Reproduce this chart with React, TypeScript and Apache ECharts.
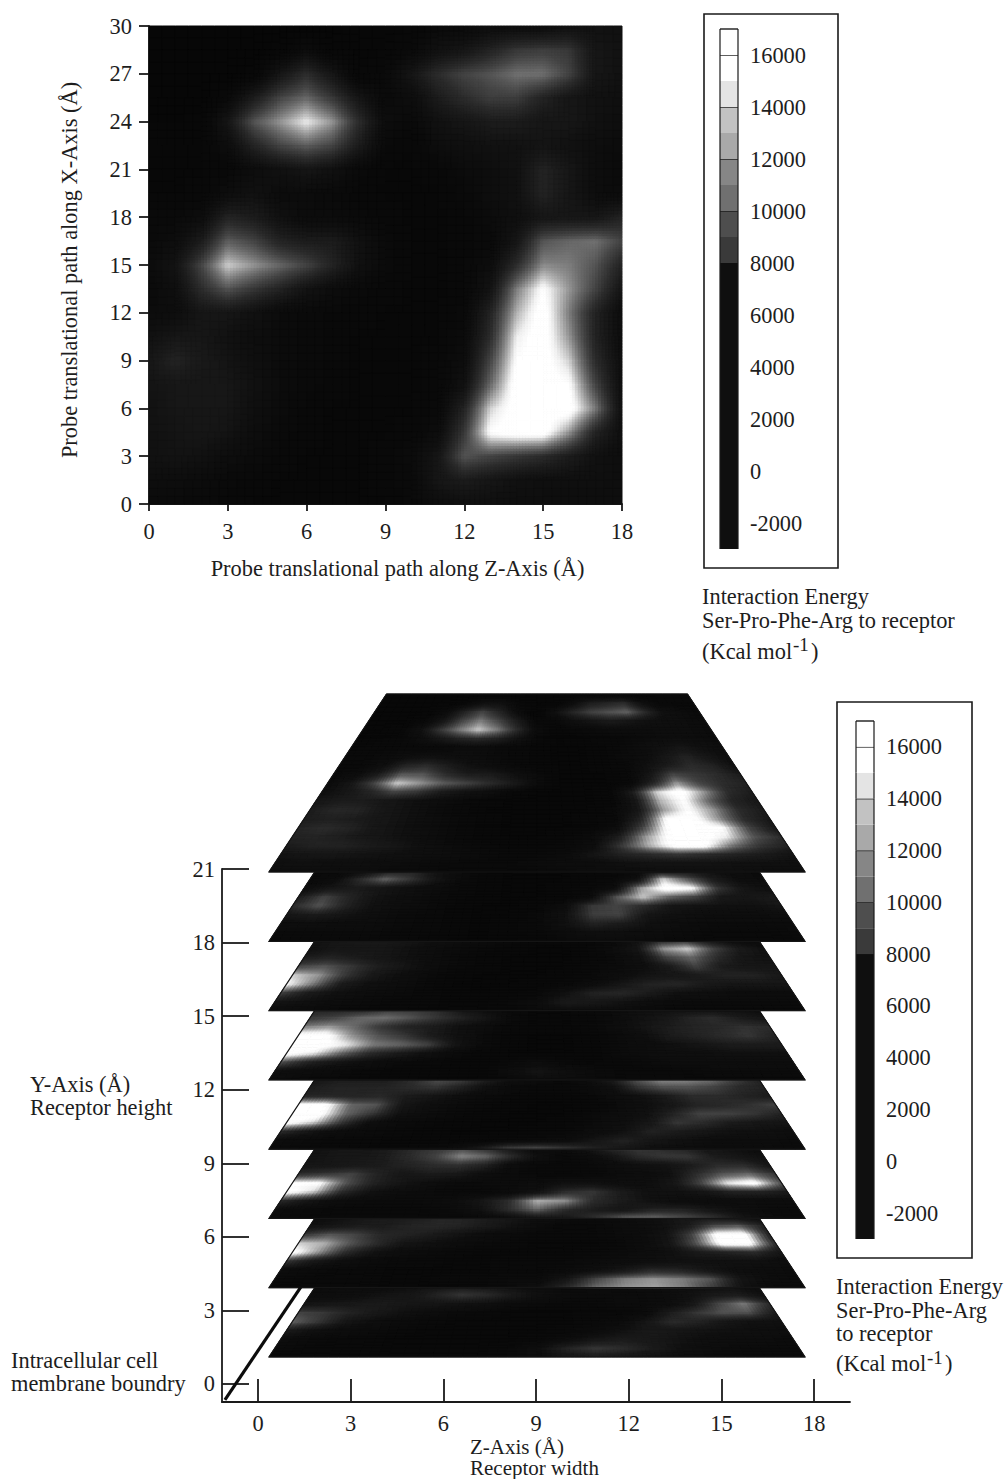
import React, { useEffect, useRef } from "react";
import * as echarts from "echarts";

// ---------- data (energies in thousands of Kcal/mol) ----------
const zValues = [0,1,2,3,4,5,6,7,8,9,10,11,12,13,14,15,16,17,18];
const fullRowsX = [30,28.5,27,25.5,24,22.5,21,19.5,18,16.5,15,13.5,12,10.5,9,7.5,6,4.5,3,1.5,0];
const frontRowsX = [12,10.5,9,7.5,6,4.5,3,1.5,0];

const mapTop = [
[-2,-2,-2,-2,-2,-2,-2,-2,-1,-1,-1,0,0,1,1,1,2,2,2],
[-2,-2,-2,-2,-2,-1,1,-1,-1,-1,0,2,3,5,7,7.5,7,3,2],
[-2,-2,-2,-2,-1,3,6,3,-1,0,3,6,8,9,10.5,10.5,8,3,2],
[-2,-2,-2,0,4,8,10,7,3,0,1,4,6,7.5,7.5,5,3,2,1.5],
[-1.5,-1.5,-1,3,9,12,15,12,6,1,0,2,3,4,4,3,3,2,1],
[-1,-1,-1,1,5,8,9.5,8,4,0,-1,1,1.5,2,2,2.5,2,1,0.5],
[-1,-1,-1,-0.5,1,2,3,2,0,-1,-1,-0.5,0.5,1,2,5,3,1,0],
[-1,-1,-0.5,1,2,0.5,0.5,0,-0.5,-1,-1,-1,0,1,2,5,3,1,0.5],
[0,0,1,5,4,2,0.5,0.5,0,-0.5,-1,-1,-0.5,0.5,1.5,3,3,3,5],
[0,1,4,9.5,8,5,4,4,2,0,-1,-1,-0.5,0,3,9,10,10.5,8],
[0.5,2.5,8,14,12,10,8,5,2,0,-1,-1,-0.5,1,6,11.5,11,9,5],
[0,1.5,6,9,7,5,2.5,1,0,-0.5,-1,-1,-0.5,2.5,11,16,12,8,3],
[0.5,1,3,3,2,0.5,0,-0.5,-0.5,-1,-1,-1,0,5,13,17,11,5,1],
[2,3,3,2,1,0.5,0,-0.5,-1,-1,-1,-1,0.5,6,15,17,12,5,1],
[3,5,3.5,2.5,1.5,0.5,0,-0.5,-1,-1,-1,-0.5,1,8,16,17,14,6,1.5],
[2.5,3,3,3,2,0.5,0,-0.5,-1,-1,-1,-0.5,2,10,17,17,16,8,1.5],
[2,3,3,3,1.5,0.5,-0.5,-1,-1,-1,-1,0,5,14,17,17,17,11,2],
[2,2.5,3,2.5,1,0,-0.5,-1,-1,-1,-0.5,1,7,16,17,17,12,5,1.5],
[2,2.5,2,1,0.5,-0.5,-1,-1,-1,-0.5,0.5,3,9,8,7,6,4,2,1],
[1,1,0.5,0,-0.5,-1,-1,-1,-1,-0.5,0,3,4,3,2,1.5,1.5,1.5,1],
[0,0,0,-0.5,-1,-1,-1,-1,-1,-1,0,1,1.5,1.5,1,1,1,1,1],
];

const plane21 = [
[-1,-1,-1,-1,-1,-1,-1,-1,-1,-1,-1,-1,-1,-0.5,-0.5,-0.5,0,0,0],
[-1,-1,-1,-1,-1,0,2,2,0,-1,-1,1,4,5,6,2,0,0,0],
[-1,-1,-1,-1,1,5,8,5,1,-1,2,5.5,8,9,10,6,2,1,0],
[-1,-1,-1,0,3,8,11,8,4,0,0,2,3,4,3,2,1.5,1,0.5],
[-1,-1,-0.5,2,7,11,14,11,6,1,-0.5,0,0.5,1,1,1,1,1,0.5],
[-1,-0.5,0,1,3,5,6,5,2.5,0,-1,-0.5,0,0,0.5,1,1.5,1,0.5],
[-0.5,0,0,0,0,0.5,1,0.5,0,-0.5,-1,-1,-0.5,0,1,2,3,2,1],
[0,0,0.5,1.5,2,1.5,1,0.5,0,-0.5,-1,-1,-0.5,0.5,1,3,5,3,1.5],
[0,0,1.5,5,6,4,2,1,0,-0.5,-1,-1,-0.5,0,2,4,6,5,2],
[0,1,4,9,9,6,4,4,2,0.5,-1,-1,-1,0,3,8,7,6,4],
[0.5,3,8,14,12,9.5,8,6,4,1,-1,-1,-1,0,5,12,8,6,5],
[1.5,3,5,8,7,4,2.5,1.5,0,-1,-1,-1,-0.5,4,14,17,12,6,4],
[3,4,4,3,2,1,0,-0.5,-1,-1,-1,-1,-0.5,3,13,16,10,5,3.5],
[4,5.5,5,3,2,0.5,0,-1,-1,-1,-1,-1,0,3,12,16,12,6,4],
[4,4.5,4,3,2,1,0,-0.5,-1,-1,-1,-0.5,0,5,16,17,12,6,3.5],
[5,6,5,3,2,1,0,-0.5,-1,-1,-1,-0.5,1,8,17,17,16,8,3.5],
[5,5,4,3,2,1,0,-0.5,-1,-1,-0.5,0.5,4,12,17,17,15,9,6],
[4,5,5,4,3,1.5,0.5,0,-0.5,-0.5,0,1,7,13,17,17,11,7,5],
[2.5,3,3,2.5,2,1.5,1,0.5,0,0,0.5,3,5,6,7,6,5,4,2.5],
[1.5,2,1.5,1.5,1,0.5,0,0,0,0.5,1,1,2,2.5,2.5,2.5,2,2,1.5],
[1,1,1,1,0.5,0.5,0,0,0,0,0.5,1,1,1.5,1.5,1.5,1.5,1,1],
];
const plane18 = [
[0,0,1,4,5,2,0.5,-1,-1,-1,-1,-1,-0.5,0,2,3,2,1,0],
[0,1,6,10,7,3,0.5,-0.5,-1,-1,-1,-0.5,0,2,14,9,4,1.5,0.5],
[1,3,4,3,2,1,0,-0.5,-1,-1,-0.5,0,1,12,17,16,7,3,1.5],
[4,8,5,2.5,1.5,0.5,0,-0.5,-1,-1,-0.5,0.5,9,14,10,8,3.5,3,4],
[6,9,5,2,1,0.5,-0.5,-1,-1,-0.5,1,7,8,6,3,2.5,2,2,3],
[3,4,3,1.5,0.5,0,-0.5,-1,-1,0,2,7.5,8,3,2,1,1,1,1.5],
[1,1.5,1,1,0.5,0,-0.5,-1,-0.5,0,2,5,4,2,1,0.5,0.5,0.5,0.5],
[0.5,0.5,0.5,0.5,0,0,-0.5,-1,-0.5,0,1,1.5,1.5,1,0.5,0,0,0,0.5],
[0,0,0,0,0,-0.5,-1,-1,-1,-1,0,0.5,0.5,0,0,0,0,0,0],
];
const plane15 = [
[2,3,3.5,3.5,3,2,1,0.5,0,-0.5,-0.5,-0.5,0,2,5,6,3,1,0],
[2,3,3,3,2,1,0.5,0,-0.5,-1,-1,-0.5,1,3,12,14,8,4,2],
[4,5,4,3,2,1,0,-0.5,-1,-1,-1,-0.5,0.5,2,8,10,6,3,2],
[8,9,7,4.5,3,1,0,-0.5,-1,-1,-1,0,0.5,1.5,4,8,4,3,3],
[14,12,7,3.5,1.5,0.5,-0.5,-1,-1,-1,-0.5,0,1,2.5,3,4,5,5,3.5],
[16,11,4,2,1,0,-1,-1,-1,-0.5,0,1,3,5,5.5,4,3,3,3],
[8,4,2,1,0.5,0,-0.5,-1,-0.5,0,2,5,5.5,4,2,1.5,1,1,1],
[3,2,1,0.5,0,0,-0.5,-0.5,0,1,4,3.5,2.5,1,0.5,0.5,0.5,0.5,0.5],
[1,0.5,0,0,0,-0.5,-0.5,-0.5,0,0.5,1,1,0.5,0,0,0,0,0,0],
];
const plane12 = [
[5,5,5,7,7,6,3,1.5,0,-0.5,-0.5,0,0.5,2,2,2,2,2,1],
[7,8,10,10.5,9,7,5,3,0.5,-0.5,-0.5,0,0.5,2,3,5,6,4,3],
[11,12,10,7,5,4,2,1,0,-0.5,-0.5,0,1,2.5,4,5,5.5,6.5,6],
[17,17,12,9,7,4,2,0.5,-0.5,-1,-1,-0.5,0.5,1.5,4,5,6,7,5],
[17,17,15,11,10,8,3,0.5,-0.5,-1,-1,-0.5,0.5,1,2,3,4,4,4],
[17,15,10,6,4,2,0.5,-0.5,-1,-1,-1,-0.5,0.5,1,1.5,1.5,2,2,2],
[9,5,3,1.5,0.5,0,-0.5,-1,0,1,0,-0.5,0,0.5,1,1,1,1,1],
[2,1,0.5,0,-0.5,-0.5,-0.5,-0.5,1,3,1.5,0.5,0,0,0,0.5,0.5,0.5,0.5],
[1,0,0,-0.5,-0.5,-1,-1,-1,0,1,1,0.5,0,0,0,0,0,0,0],
];
const plane9 = [
[3,4,4,4,6,9,8,5,2,1,0,1,4,9,12,12,11,8,5],
[4,5,5,5,6,7,5,2,0.5,0,0,0.5,2,7,9,9,8,6,5],
[5,5,5,5.5,4,3,1.5,0.5,0,-0.5,-0.5,0,1,2,4,6,6,5,4],
[17,17,10,9,3,1.5,0.5,0,-0.5,-1,-1,-0.5,0.5,1.5,3,5,5.5,6.5,8],
[17,17,10,7,2,1,0,-0.5,-1,-1,-1,0,1,2,5,8,8,7,5],
[17,14,7,1.5,0.5,0,-0.5,-1,-1,-1,-0.5,0.5,1.5,3,7,6,4,3,3],
[6,3,1,0.5,0,-0.5,-1,-1,-1,-0.5,0,1,2,5,4,3,2,2,1],
[1,0.5,0,0,-0.5,-0.5,-0.5,-0.5,0,0.5,1,3,5,3,2,1,1,1,0.5],
[0.5,0,0,-0.5,-0.5,0,1,4,9,10,8,5,3,1.5,1,0.5,0.5,0.5,0.5],
];
const plane6 = [
[2,3,3,4,6,7,8,6,3,1,1,3,6,7,6,5,3,2,1],
[2,3,3,4,6,8,11.5,10,6,2,0,1,3,6,7,7,4,3,2],
[3,3,3.5,4,5,6,6.5,5,1,0,0,0,1,2,2.5,4,6,6,3],
[6,7,8,5,3,4,3.5,1.5,0.5,0,-0.5,0,0.5,1,2,6,9,10,7],
[16,16,9,5,3,1.5,0.5,0.5,0.5,1,2,2,1.5,1.5,3,8,15,17,9],
[17,14,6,2.5,1,0.5,0,0,0.5,2,6,7,4,2,2,3,5,5,4],
[6,3,1,0.5,0.5,0.5,1,3,6,13,12,6,4,2,1,1,1,1,1],
[1,0.5,0,0,0,0,0.5,2,6,10,6,4,3,5,5,3,1.5,0.5,0.5],
[0.5,0,0,0,0,0,0,0,0.5,2,3,7,11,11,9,7,3,1,0.5],
];
const plane3 = [
[1,2,3,4,4,5,5,4,3,2,1,0.5,0.5,1,2,3,3,2,1],
[2,3,4,4,5,5.5,5,4,2.5,1,0,0,0.5,1,2,4,8,9,5],
[7,9,8,5.5,5,4,2.5,1,0.5,0,0,0,0.5,1,2.5,8,17,17,5],
[14,13,9,6,3,2,1,0.5,0,-0.5,-0.5,-0.5,0,1,3,9,17,17,6],
[17,12,6,2.5,1,0.5,0,-0.5,-0.5,-0.5,-0.5,0,0.5,1,2,4,5,6,3],
[7,3.5,1.5,0.5,0,0,-0.5,-0.5,0,0,0,0.5,1,1.5,2,2,2,2,1],
[1,0.5,0,0,-0.5,-0.5,-0.5,-0.5,0,0,0.5,1.5,3,5.5,5,3,1.5,1,0.5],
[0.5,0,0,0,-0.5,-0.5,0,0,0.5,0.5,3,8,11,12,11,9,3,1,0.5],
[0,0,0,0,-0.5,-0.5,-0.5,0,0.5,2,6,10.5,12,12.5,11,7,2,0.5,0.5],
];
const plane0 = [
[0.5,1,1,1,2,3,3.5,3,2,1,0.5,0.5,0.5,1,1,1.5,2,2,1],
[1,1,1.5,2.5,3,5,7,6,4,2,1,0.5,0.5,0.5,1,2,3.5,4,2],
[2.5,3,3.5,4,3,3,2.5,2,1,0.5,0,0,0.5,0.5,1,3,8,11,6],
[8,7,5,3.5,2,1,0.5,0,-0.5,-0.5,-0.5,0,0,0.5,4,7,9,9,4],
[10,7,3,1.5,0.5,0,-0.5,-0.5,-0.5,-0.5,-0.5,0,0.5,3,6,5,3,2,2],
[4,2,1,0.5,0,-0.5,-0.5,-0.5,-0.5,-0.5,0,0.5,2,3.5,3,2.5,2,1.5,1],
[1,0.5,0,0,-0.5,-0.5,-0.5,-0.5,-0.5,0,1,3,4,3.5,2.5,1.5,1,1,0.5],
[0.5,0,0,0,-0.5,-0.5,-0.5,-0.5,0,1.5,5,7,6,4,2,1,0.5,0.5,0.5],
[0,0,0,-0.5,-0.5,-0.5,-0.5,-0.5,0,1,3,4,3,2,1,0.5,0,0,0],
];

const planeLevels = [0, 3, 6, 9, 12, 15, 18];
const lowerPlanes = [plane0, plane3, plane6, plane9, plane12, plane15, plane18];
const topPlaneLevel = 21;

const stackZTicks = [0, 3, 6, 9, 12, 15, 18];
const stackYTicks = [0, 3, 6, 9, 12, 15, 18, 21];
const energyTicks = [-2000, 0, 2000, 4000, 6000, 8000, 10000, 12000, 14000, 16000];
const barEdges = [-3000, 8000, 9000, 10000, 11000, 12000, 13000, 14000, 15000, 16000, 17000];
const barShades = ["#0f0f0f", "#3a3a3a", "#4e4e4e", "#707070", "#868686", "#a9a9a9", "#c2c2c2", "#e4e4e4", "#ffffff", "#ffffff"];
const barRuled = [10000, 12000, 14000, 16000, 17000];
const membraneZ = [-1.07, 1.39];
const membraneY = [-0.65, 3.96];

// ---------- helpers ----------
const FONT = "Liberation Serif";
const TEXT = "#1d1d1d";
const FS = 22.4;
const stops: number[][] = [[-3,5],[0,10],[2,17],[4,28],[6,44],[8,68],[9,85],[10,103],[11,125],[12,150],[13,178],[14,208],[15,240],[16,255]];
function shade(v: number): number {
  if (v <= stops[0][0]) return stops[0][1];
  for (let i = 1; i < stops.length; i++) {
    if (v <= stops[i][0]) {
      const t = (v - stops[i - 1][0]) / (stops[i][0] - stops[i - 1][0]);
      return stops[i - 1][1] + t * (stops[i][1] - stops[i - 1][1]);
    }
  }
  return 255;
}
const grey = (v: number) => { const g = Math.round(shade(v)); return `rgb(${g},${g},${g})`; };

function cells(matrix: number[][], rows: number[]) {
  const out: number[][] = [];
  for (let r = 0; r < rows.length - 1; r++) {
    for (let c = 0; c < zValues.length - 1; c++) {
      out.push([zValues[c], rows[r + 1], zValues[c + 1], rows[r], matrix[r + 1][c], matrix[r + 1][c + 1], matrix[r][c], matrix[r][c + 1]]);
    }
  }
  return out;
}
function bilinearPieces(api: any, maxN: number, make: (a: number[], b: number[], col: string) => any) {
  const z0 = api.value(0), x0 = api.value(1), z1 = api.value(2), x1 = api.value(3);
  const v00 = api.value(4), v10 = api.value(5), v01 = api.value(6), v11 = api.value(7);
  const sh = [v00, v10, v01, v11].map(shade);
  const range = Math.max(...sh) - Math.min(...sh);
  const n = Math.min(maxN, Math.ceil(range / 6) + 2);
  const kids: any[] = [];
  for (let i = 0; i < n; i++) {
    for (let j = 0; j < n; j++) {
      const u = (i + 0.5) / n, w = (j + 0.5) / n;
      const v = v00 * (1 - u) * (1 - w) + v10 * u * (1 - w) + v01 * (1 - u) * w + v11 * u * w;
      kids.push(make(
        [z0 + (z1 - z0) * i / n, x0 + (x1 - x0) * j / n],
        [z0 + (z1 - z0) * (i + 1) / n, x0 + (x1 - x0) * (j + 1) / n],
        grey(v)));
    }
  }
  return { type: "group", children: kids };
}
const renderMap = (_: any, api: any) =>
  bilinearPieces(api, 9, (a, b, col) => {
    const p = api.coord(a), q = api.coord(b);
    return { type: "rect", shape: { x: p[0], y: q[1], width: q[0] - p[0], height: p[1] - q[1] }, style: { fill: col, stroke: col, lineWidth: 1 } };
  });
const renderMapBase = (_: any, api: any) => {
  const p = api.coord([api.value(0), api.value(1)]), q = api.coord([api.value(2), api.value(3)]);
  return { type: "rect", shape: { x: p[0], y: q[1], width: q[0] - p[0], height: p[1] - q[1] }, style: { fill: "#0d0d0d" } };
};

// A plane at height Y is sheared back in depth and narrowed towards its far edge.
const DEPTH_PER_X = 178 / 30 / 23.095;
const NARROW = 235 / 536;
function project(api: any, z: number, x: number, level: number) {
  const c = api.coord([z, level + DEPTH_PER_X * x]);
  const mid = api.coord([9, level])[0];
  return [mid + (c[0] - mid) * (1 - NARROW * x / 30), c[1]];
}
const renderPlane = (level: number) => (_: any, api: any) =>
  bilinearPieces(api, 8, (a, b, col) => ({
    type: "polygon",
    shape: { points: [project(api, a[0], a[1], level), project(api, b[0], a[1], level), project(api, b[0], b[1], level), project(api, a[0], b[1], level)] },
    style: { fill: col, stroke: col, lineWidth: 0.9 },
  }));
const planeFrame = (api: any, style: any) => {
  const level = api.value(0), xMax = api.value(1);
  return {
    type: "polygon",
    shape: { points: [project(api, 0, 0, level), project(api, 18, 0, level), project(api, 18, xMax, level), project(api, 0, xMax, level)] },
    style,
  };
};
const renderPlaneBase = (_: any, api: any) => planeFrame(api, { fill: "#0d0d0d" });
const renderOutline = (_: any, api: any) => planeFrame(api, { fill: "none", stroke: "#151515", lineWidth: 1.2 });
const renderBar = (_: any, api: any) => {
  const low = api.value(0), high = api.value(1), idx = api.value(2);
  const l = api.coord([0, low]), h = api.coord([1, high]);
  const kids: any[] = [
    { type: "rect", shape: { x: l[0], y: h[1], width: h[0] - l[0], height: l[1] - h[1] }, style: { fill: barShades[idx] } },
    { type: "line", shape: { x1: l[0], y1: h[1], x2: l[0], y2: l[1] }, style: { stroke: "#1a1a1a", lineWidth: 1.2 } },
    { type: "line", shape: { x1: h[0], y1: h[1], x2: h[0], y2: l[1] }, style: { stroke: "#1a1a1a", lineWidth: 1.2 } },
  ];
  if (barRuled.includes(high)) kids.push({ type: "line", shape: { x1: l[0], y1: h[1], x2: h[0], y2: h[1] }, style: { stroke: "#1a1a1a", lineWidth: 1.4 } });
  return { type: "group", children: kids };
};

const label = (x: number, y: number, text: string, extra: any = {}, size: number = FS) => ({
  type: "text", x, y,
  style: { text, fill: TEXT, font: `${size}px "${FONT}"`, verticalAlign: "middle", ...extra },
});
const legendBox = (x: number, y: number, w: number, h: number) => ({
  type: "rect", shape: { x, y, width: w, height: h }, style: { fill: "none", stroke: "#1a1a1a", lineWidth: 1.6 },
});
const hiddenAxis = (gridIndex: number, min: number, max: number) => ({ type: "value", gridIndex, min, max, show: false });
const labelStyle = { color: TEXT, fontFamily: FONT, fontSize: FS };
const line = { lineStyle: { color: "#1a1a1a", width: 1.8 } };

export default function App() {
  const ref = useRef<HTMLDivElement>(null);
  useEffect(() => {
    const chart = echarts.init(ref.current!, undefined, { renderer: "svg" });
    const barData = barShades.map((_, i) => [barEdges[i], barEdges[i + 1], i]);
    const energyAxis = (gridIndex: number) => ({
      type: "value", gridIndex, position: "right", min: -3000, max: 17000,
      axisLine: { show: false }, axisTick: { show: false }, splitLine: { show: false },
      axisLabel: { ...labelStyle, margin: 12, customValues: energyTicks, formatter: (v: number) => String(v) },
    });
    const planeSeries: any[] = [];
    const addPlane = (level: number, matrix: number[][], rows: number[]) => {
      const common = { type: "custom", coordinateSystem: "cartesian2d", xAxisIndex: 4, yAxisIndex: 4, silent: true };
      planeSeries.push({ ...common, renderItem: renderPlaneBase, data: [[level, rows[0]]], encode: { x: [], y: [] } });
      planeSeries.push({ ...common, progressive: 0, renderItem: renderPlane(level), data: cells(matrix, rows) });
      planeSeries.push({ ...common, renderItem: renderOutline, data: [[level, rows[0]]], encode: { x: [], y: [] } });
    };
    planeLevels.forEach((lv, i) => addPlane(lv, lowerPlanes[i], frontRowsX));
    addPlane(topPlaneLevel, plane21, fullRowsX);

    chart.setOption({
      animation: false,
      backgroundColor: "#ffffff",
      grid: [
        { left: 149, top: 26, width: 473, height: 478 },
        { left: 720, top: 29, width: 18, height: 520 },
        { left: 856, top: 721, width: 18, height: 518 },
        { left: 222, top: 869, width: 628, height: 533 },
        { left: 269, top: 694, width: 536, height: 663 },
      ],
      xAxis: [
        {
          type: "value", gridIndex: 0, min: 0, max: 18, interval: 3, splitLine: { show: false },
          axisLine: line, axisTick: { length: 7, ...line }, axisLabel: { ...labelStyle, margin: 16 },
          name: "Probe translational path along Z-Axis (Å)", nameLocation: "middle", nameGap: 53,
          nameTextStyle: { ...labelStyle, padding: [0, 0, 0, 24] },
        },
        hiddenAxis(1, 0, 1),
        hiddenAxis(2, 0, 1),
        {
          type: "value", gridIndex: 3, min: -1.165, max: 19.158, splitLine: { show: false },
          axisLine: { onZero: false, ...line },
          axisTick: { inside: true, length: 23, customValues: stackZTicks, ...line },
          axisLabel: { ...labelStyle, margin: 10, customValues: stackZTicks },
        },
        hiddenAxis(4, 0, 18),
      ],
      yAxis: [
        {
          type: "value", gridIndex: 0, min: 0, max: 30, interval: 3, splitLine: { show: false },
          axisLine: line, axisTick: { length: 10, ...line }, axisLabel: { ...labelStyle, margin: 17 },
          name: "Probe translational path along X-Axis (Å)", nameLocation: "middle", nameGap: 69,
          nameTextStyle: { ...labelStyle, padding: [0, 10, 0, 0] },
        },
        energyAxis(1),
        energyAxis(2),
        {
          type: "value", gridIndex: 3, min: -0.734, max: 21, splitLine: { show: false },
          axisLine: { onZero: false, ...line },
          axisTick: { inside: true, length: 27, customValues: stackYTicks, ...line },
          axisLabel: { ...labelStyle, margin: 7, customValues: stackYTicks },
        },
        hiddenAxis(4, 0, 28.707),
      ],
      series: [
        {
          type: "custom", coordinateSystem: "cartesian2d", xAxisIndex: 0, yAxisIndex: 0, silent: true,
          renderItem: renderMapBase, data: [[0, 0, 18, 30]], encode: { x: [0, 2], y: [1, 3] },
        },
        {
          type: "custom", coordinateSystem: "cartesian2d", xAxisIndex: 0, yAxisIndex: 0, silent: true, progressive: 0,
          renderItem: renderMap, data: cells(mapTop, fullRowsX),
        },
        { type: "custom", coordinateSystem: "cartesian2d", xAxisIndex: 1, yAxisIndex: 1, silent: true, renderItem: renderBar, data: barData, encode: { x: [], y: [] } },
        { type: "custom", coordinateSystem: "cartesian2d", xAxisIndex: 2, yAxisIndex: 2, silent: true, renderItem: renderBar, data: barData, encode: { x: [], y: [] } },
        ...planeSeries,
        {
          type: "line", xAxisIndex: 3, yAxisIndex: 3, silent: true, symbol: "none",
          lineStyle: { color: "#0c0c0c", width: 3.2 },
          data: membraneZ.map((z, i) => [z, membraneY[i]]),
        },
      ],
      graphic: [
        legendBox(704, 14, 134, 554),
        legendBox(837, 702, 135, 556),
        label(702, 596, "Interaction Energy"),
        label(702, 620, "Ser-Pro-Phe-Arg to receptor"),
        label(702, 651, "(Kcal mol"),
        label(793, 644, "-1", {}, 19),
        label(811, 651, ")"),
        label(836, 1286, "Interaction Energy"),
        label(836, 1310, "Ser-Pro-Phe-Arg"),
        label(836, 1333, "to receptor"),
        label(836, 1363, "(Kcal mol"),
        label(927, 1357, "-1", {}, 19),
        label(945, 1363, ")"),
        label(30, 1084, "Y-Axis (Å)"),
        label(30, 1107, "Receptor height"),
        label(11, 1360, "Intracellular cell"),
        label(11, 1383, "membrane boundry"),
        label(470, 1447, "Z-Axis (Å)", {}, 21),
        label(470, 1468, "Receptor width", {}, 21),
      ],
    });
    return () => chart.dispose();
  }, []);
  return <div ref={ref} style={{ position: "absolute", left: 0, top: 0, width: 1008, height: 1479 }} />;
}
